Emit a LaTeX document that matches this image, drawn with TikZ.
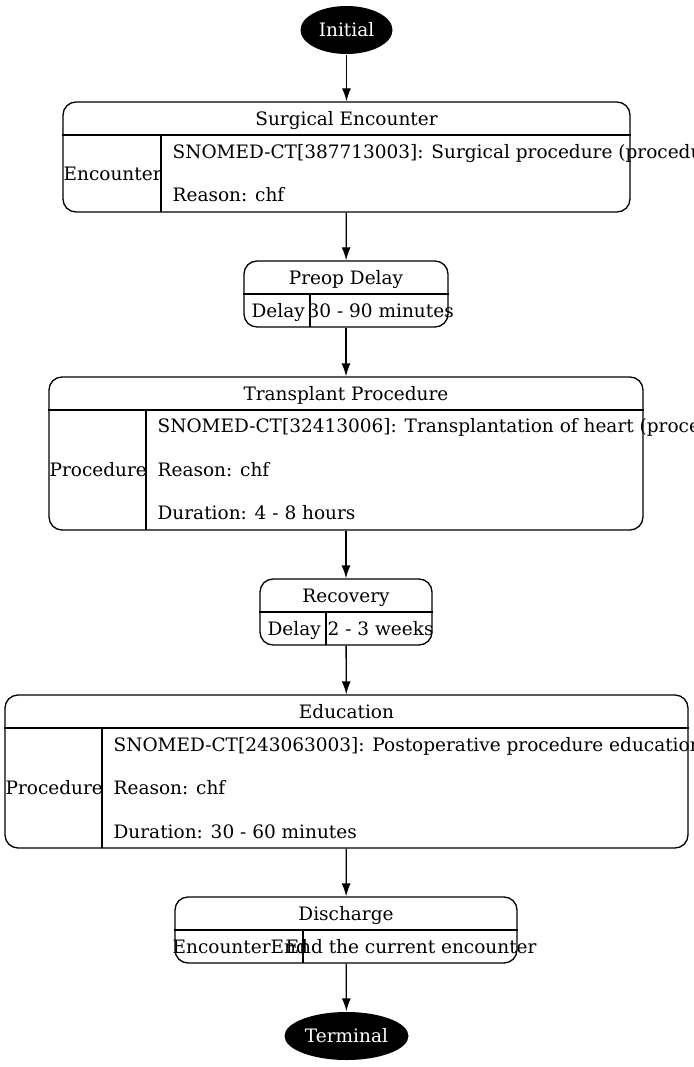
\documentclass[tikz,border=0pt]{standalone}
\usepackage{fontspec}
\setmainfont{DejaVu Serif}
\usetikzlibrary{arrows.meta,shapes.geometric}

\begin{document}
\begin{tikzpicture}[x=1pt,y=-1pt,>={Latex[length=13pt,width=9pt]},line width=1.3pt,
    every node/.style={font=\fontsize{18.5}{22}\selectfont},
    endpoint/.style={ellipse,fill=black,text=white,inner sep=0pt},
    statebox/.style={draw,rounded corners=13pt,inner sep=0pt},
    txt/.style={anchor=west,inner sep=0pt,text height=13.5pt,text depth=0pt},
    title/.style={inner sep=0pt,text height=13.5pt,text depth=0pt}]
    \useasboundingbox (0,0) rectangle (693,1067);

    % start and end
    \node[endpoint,minimum width=92pt,minimum height=48pt] (initial) at (346.5,30) {Initial};
    \node[endpoint,minimum width=124pt,minimum height=48pt] (terminal) at (346.5,1036) {Terminal};

    % Surgical Encounter
    \node[statebox,minimum width=567pt,minimum height=110pt] (surgical) at (346.5,157) {};
    \node[title] (surgicalT) at (346.5,118.5) {Surgical Encounter};
    \draw (surgical.west |- 0,135) -- (surgical.east |- 0,135);
    \draw (161,135) -- (161,212);
    \node[txt] at (63,173.5) {Encounter};
    \node[txt] at (172,151.5) {SNOMED-CT[387713003]: Surgical procedure (procedure)};
    \node[txt] at (172,195) {Reason: chf};

    % Preop Delay
    \node[statebox,minimum width=204pt,minimum height=66pt] (preop) at (346,294) {};
    \node[title] (preopT) at (346,277.5) {Preop Delay};
    \draw (preop.west |- 0,294) -- (preop.east |- 0,294);
    \draw (310,294) -- (310,327);
    \node[txt] at (251,311) {Delay};
    \node[txt] at (307,311) {30 - 90 minutes};

    % Transplant Procedure
    \node[statebox,minimum width=594pt,minimum height=153pt] (transplant) at (346,453.5) {};
    \node[title] (transplantT) at (346,393.5) {Transplant Procedure};
    \draw (transplant.west |- 0,410) -- (transplant.east |- 0,410);
    \draw (146,410) -- (146,530);
    \node[txt] at (49,470) {Procedure};
    \node[txt] at (157,426) {SNOMED-CT[32413006]: Transplantation of heart (procedure)};
    \node[txt] at (157,469.5) {Reason: chf};
    \node[txt] at (157,513) {Duration: 4 - 8 hours};

    % Recovery
    \node[statebox,minimum width=172pt,minimum height=66pt] (recovery) at (346,612) {};
    \node[title] (recoveryT) at (346,596) {Recovery};
    \draw (recovery.west |- 0,612) -- (recovery.east |- 0,612);
    \draw (326,612) -- (326,645);
    \node[txt] at (267,629) {Delay};
    \node[txt] at (327,629) {2 - 3 weeks};

    % Education
    \node[statebox,minimum width=683pt,minimum height=153pt] (education) at (346.5,771.5) {};
    \node[title] (educationT) at (346.5,711.5) {Education};
    \draw (education.west |- 0,728) -- (education.east |- 0,728);
    \draw (102,728) -- (102,848);
    \node[txt] at (5,788) {Procedure};
    \node[txt] at (113,744.5) {SNOMED-CT[243063003]: Postoperative procedure education (procedure)};
    \node[txt] at (113,788) {Reason: chf};
    \node[txt] at (113,831.5) {Duration: 30 - 60 minutes};

    % Discharge
    \node[statebox,minimum width=342pt,minimum height=66pt] (discharge) at (346,930) {};
    \node[title] (dischargeT) at (346,914) {Discharge};
    \draw (discharge.west |- 0,930) -- (discharge.east |- 0,930);
    \draw (303,930) -- (303,963);
    \node[txt] at (172,947) {EncounterEnd};
    \node[txt] at (285,947) {End the current encounter};

    % transitions
    \draw[->] (initial) -- (surgical);
    \draw[->] (surgical) -- (preop);
    \draw[->] (preop) -- (transplant);
    \draw[->] (transplant) -- (recovery);
    \draw[->] (recovery) -- (education);
    \draw[->] (education) -- (discharge);
    \draw[->] (discharge) -- (terminal);
\end{tikzpicture}
\end{document}
